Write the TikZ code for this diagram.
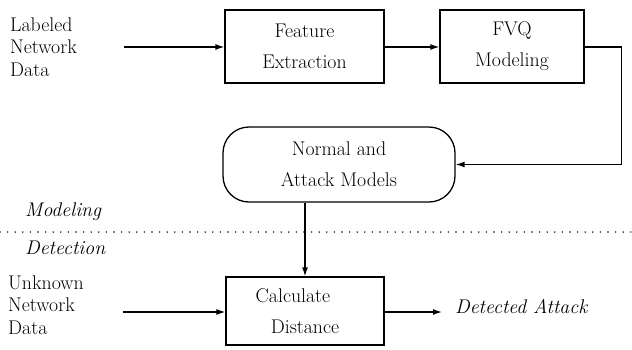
\documentclass[tikz,border=0pt]{standalone}
\usetikzlibrary{arrows.meta}
\tikzset{
  txt/.style={font=\fontsize{19.8}{22.5}\selectfont},
  btxt/.style={font=\fontsize{19.8}{31}\selectfont},
  itxt/.style={font=\fontsize{19.8}{22.5}\selectfont\itshape},
  box/.style={btxt,draw,line width=1.3pt,align=center,inner sep=0pt},
  lbl/.style={txt,align=left,inner sep=0pt,anchor=west},
  ilbl/.style={itxt,inner sep=0pt,anchor=west},
  conn/.style={line width=1.3pt,-{Latex[length=9pt,width=6pt]}}}
\begin{document}
\begin{tikzpicture}[x=1pt,y=-1pt]
\useasboundingbox (0,0) rectangle (632,349);
% boxes
\node[box,minimum width=159pt,minimum height=73pt] (fe) at (304.5,46.5) {Feature\\Extraction};
\node[box,minimum width=144pt,minimum height=73pt] (fvq) at (512,46.5) {FVQ\\Modeling};
\node[box,rounded corners=26pt,minimum width=232pt,minimum height=75pt] (nam) at (339,164.5) {Normal and\\Attack Models};
\node[box,minimum width=158pt,minimum height=68pt] (calc) at (305,311) {Calculate\hspace*{24pt}\\Distance};
% labels
\node[lbl] (lnd) at (10,47) {Labeled\\Network\\Data};
\node[lbl] (und) at (8,305) {Unknown\\Network\\Data};
\node[ilbl] (mod) at (25,212) {Modeling};
\node[ilbl] (det) at (25,248) {Detection};
\node[ilbl] (da) at (455,307) {Detected Attack};
% coordinates
\coordinate (lin) at (124,47);
\coordinate (uin) at (123,312);
\coordinate (dout) at (442,312);
\coordinate (dl) at (0,232);
\coordinate (dr) at (632,232);
% connectors
\draw[conn] (lin) -- (fe.west |- lin);
\draw[conn] (fe.east |- lin) -- (fvq.west |- lin);
\draw[conn] (fvq.east |- lin) -- ++(37,0) |- (nam.east);
\draw[conn] (calc.north |- nam.south) -- (calc.north);
\draw[conn] (uin) -- (calc.west |- uin);
\draw[conn] (calc.east |- dout) -- (dout);
\draw[line width=1.6pt,line cap=round,dash pattern=on 0pt off 7.6pt] (dl) -- (dr);
\end{tikzpicture}
\end{document}
